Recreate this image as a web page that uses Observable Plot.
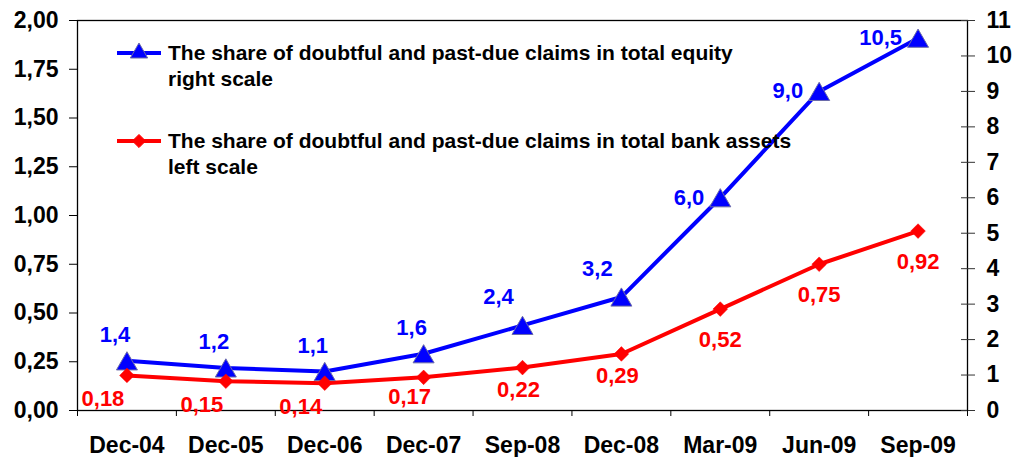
<!DOCTYPE html>
<html>
<head>
<meta charset="utf-8">
<script src="https://cdn.jsdelivr.net/npm/d3@7"></script>
<script src="https://cdn.jsdelivr.net/npm/@observablehq/plot@0.6"></script>
<style>
  html, body { margin: 0; padding: 0; background: #fff; }
  #chart { position: relative; width: 1015px; height: 457px; }
  svg { font-family: "Liberation Sans", Arial, sans-serif; }
</style>
</head>
<body>
<div id="chart"></div>
<script>
const categories = ["Dec-04","Dec-05","Dec-06","Dec-07","Sep-08","Dec-08","Mar-09","Jun-09","Sep-09"];
const equityShare = [1.4, 1.2, 1.1, 1.6, 2.4, 3.2, 6.0, 9.0, 10.5];   // right scale
const assetsShare = [0.18, 0.15, 0.14, 0.17, 0.22, 0.29, 0.52, 0.75, 0.92]; // left scale
const leftTicks = [0, 0.25, 0.5, 0.75, 1, 1.25, 1.5, 1.75, 2];
const rightTicks = [0,1,2,3,4,5,6,7,8,9,10,11];
const legendLabels = [
  ["The share of doubtful and past-due claims in total equity", "right scale"],
  ["The share of doubtful and past-due claims in total bank assets", "left scale"]
];

const BLUE = "#0000ff", RED = "#ff0000";
const k = 2 / 11; // right scale -> left scale
const comma = f => v => d3.format(f)(v).replace(".", ",");

const blue = categories.map((c, i) => ({i, x: i + 0.5, v: equityShare[i], y: equityShare[i] * k}));
const red = categories.map((c, i) => ({i, x: i + 0.5, v: assetsShare[i], y: assetsShare[i]}));

const AX = 23, LB = 22;
const plot = Plot.plot({
  width: 1015,
  height: 457,
  marginLeft: 77,
  marginRight: 48,
  marginTop: 20,
  marginBottom: 47,
  style: {fontFamily: "'Liberation Sans', Arial, sans-serif", fontWeight: "bold", fontSize: "20px", color: "#000", background: "#fff"},
  x: {type: "linear", domain: [0, categories.length]},
  y: {domain: [0, 2]},
  marks: [
    Plot.frame({stroke: "#000", strokeWidth: 1.3}),
    Plot.axisY({ticks: leftTicks, tickFormat: comma(".2f"), tickSize: 8, tickPadding: 11, anchor: "left", label: null, fontSize: AX, fontWeight: "bold"}),
    Plot.axisY({ticks: rightTicks.map(t => t * k), tickFormat: (d, i) => String(rightTicks[i]), tickSize: 14, dx: -7, tickPadding: 12, anchor: "right", label: null, fontSize: AX, fontWeight: "bold", stroke: "#333"}),
    Plot.axisX({ticks: d3.range(0, categories.length + 1), tickFormat: () => "", tickSize: 6, label: null}),
    Plot.axisX({ticks: categories.map((c, i) => i + 0.5), tickFormat: (d) => categories[Math.round(d - 0.5)], tickSize: 0, tickPadding: 26, label: null, fontSize: AX, fontWeight: "bold"}),
    Plot.line(blue, {x: "x", y: "y", stroke: BLUE, strokeWidth: 4}),
    Plot.line(red, {x: "x", y: "y", stroke: RED, strokeWidth: 4}),
    Plot.dot(blue, {x: "x", y: "y", symbol: "triangle", r: 7.8, dy: 3, fill: BLUE, stroke: "#6b6ba8", strokeWidth: 1}),
    Plot.dot(red, {x: "x", y: "y", symbol: "diamond2", r: 6.6, fill: RED, stroke: RED, strokeWidth: 0.5}),
    // blue labels
    Plot.text(blue, {filter: d => d.i <= 3, x: "x", y: "y", text: d => comma(".1f")(d.v), dx: -12, dy: -26, fill: BLUE, fontSize: LB, fontWeight: "bold"}),
    Plot.text(blue, {filter: d => d.i >= 4 && d.i <= 5, x: "x", y: "y", text: d => comma(".1f")(d.v), dx: -24, dy: -28, fill: BLUE, fontSize: LB, fontWeight: "bold"}),
    Plot.text(blue, {filter: d => d.i >= 6, x: "x", y: "y", text: d => comma(".1f")(d.v), dx: -16, dy: 0, textAnchor: "end", fill: BLUE, fontSize: LB, fontWeight: "bold"}),
    // red labels
    Plot.text(red, {filter: d => d.i <= 2, x: "x", y: "y", text: d => comma(".2f")(d.v), dx: -24, dy: 24, fill: RED, fontSize: LB, fontWeight: "bold"}),
    Plot.text(red, {filter: d => d.i === 3, x: "x", y: "y", text: d => comma(".2f")(d.v), dx: -14, dy: 20, fill: RED, fontSize: LB, fontWeight: "bold"}),
    Plot.text(red, {filter: d => d.i >= 4 && d.i <= 5, x: "x", y: "y", text: d => comma(".2f")(d.v), dx: -4, dy: 22, fill: RED, fontSize: LB, fontWeight: "bold"}),
    Plot.text(red, {filter: d => d.i >= 6, x: "x", y: "y", text: d => comma(".2f")(d.v), dx: 0, dy: 31, fill: RED, fontSize: LB, fontWeight: "bold"})
  ]
});

document.getElementById("chart").appendChild(plot);

// Legend inside plot area
const svg = d3.select(plot);
const lg = svg.append("g")
  .attr("font-family", "'Liberation Sans', Arial, sans-serif")
  .attr("font-weight", "bold")
  .attr("font-size", "21px")
  .attr("text-anchor", "start");
const entries = [
  {y: 53, color: BLUE, sym: d3.symbolTriangle, size: 130, stroke: "#6b6ba8", lines: legendLabels[0]},
  {y: 141, color: RED, sym: d3.symbolDiamond2, size: 110, stroke: RED, lines: legendLabels[1]}
];
for (const e of entries) {
  lg.append("line").attr("x1", 117).attr("x2", 161).attr("y1", e.y).attr("y2", e.y).attr("stroke", e.color).attr("stroke-width", 4);
  lg.append("path").attr("d", d3.symbol(e.sym, e.size)()).attr("transform", `translate(139,${e.y})`).attr("fill", e.color).attr("stroke", e.stroke).attr("stroke-width", 1);
  e.lines.forEach((t, j) => {
    lg.append("text").attr("x", 168).attr("y", e.y + 7 + j * 26).attr("fill", "#000").text(t);
  });
}
</script>
</body>
</html>
